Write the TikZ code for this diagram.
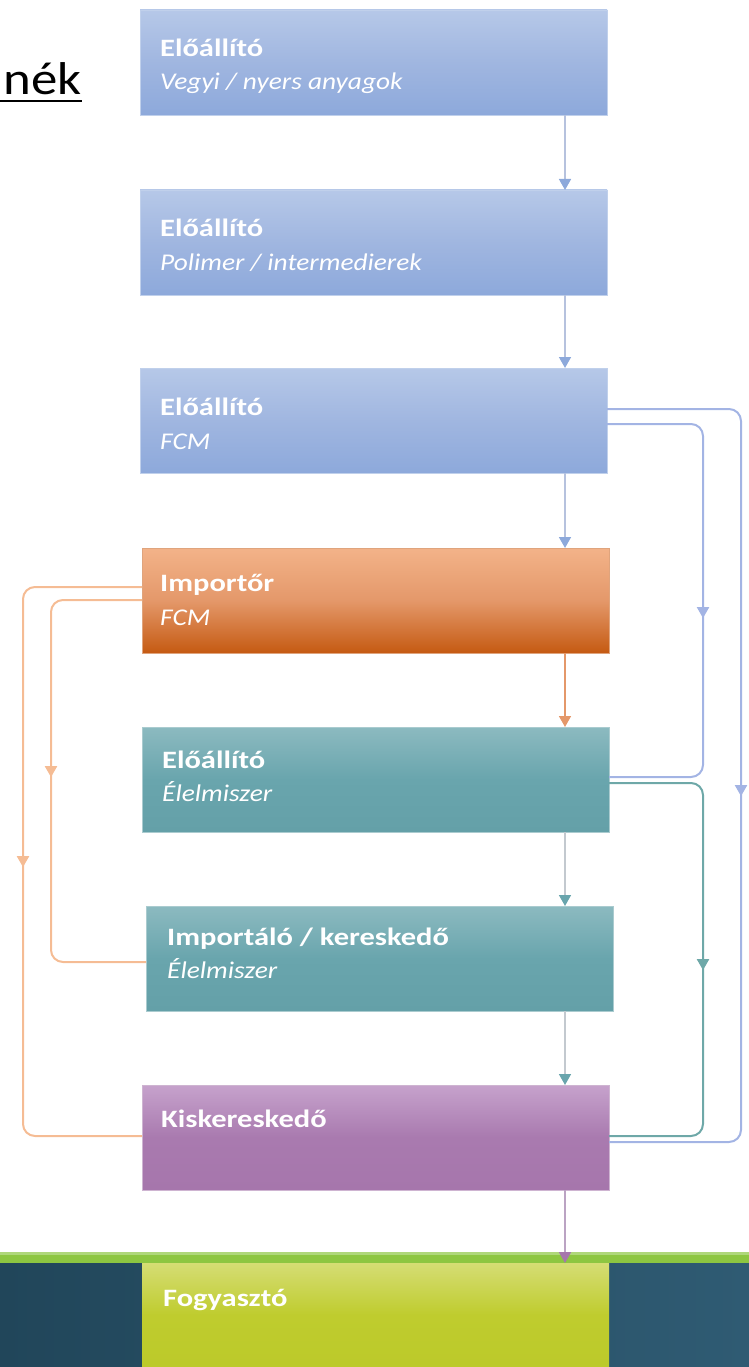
\documentclass[tikz,border=0pt]{standalone}
\usepackage{fontspec}
\setmainfont{Carlito}
\usetikzlibrary{arrows.meta,decorations.markings,calc}
\definecolor{blueTop}{HTML}{B6C8E8}
\definecolor{blueMid}{HTML}{A0B6E0}
\definecolor{blueBot}{HTML}{8DA9DB}
\definecolor{orTop}{HTML}{F3B389}
\definecolor{orMid}{HTML}{E4986A}
\definecolor{orBot}{HTML}{C55A12}
\definecolor{tealTop}{HTML}{8CBAC0}
\definecolor{tealMid}{HTML}{69A5AD}
\definecolor{tealBot}{HTML}{64A0A8}
\definecolor{purTop}{HTML}{C6A2CC}
\definecolor{purMid}{HTML}{A97AAF}
\definecolor{purBot}{HTML}{A676AC}
\definecolor{limeTop}{HTML}{D5DD74}
\definecolor{limeMid}{HTML}{BFCC2E}
\definecolor{limeBot}{HTML}{BCCA2A}
\definecolor{bandL}{HTML}{21465A}
\definecolor{bandR}{HTML}{2F5B73}
\definecolor{stripe}{HTML}{8DC641}
\definecolor{blueLine}{HTML}{A3B4E4}
\definecolor{orLine}{HTML}{F5BC94}
\definecolor{tealLine}{HTML}{6EA8A8}
\definecolor{greyLine}{HTML}{C3C9CF}
\definecolor{bluegLine}{HTML}{B6C2DE}
\definecolor{purLine}{HTML}{BBA3C3}
\newcommand\wideT[1]{\scalebox{1.22}[1]{#1}}
\newcommand\wideS[1]{\scalebox{1.14}[1]{#1}}
\begin{document}
\begin{tikzpicture}[x=1pt,y=-1pt,
  stage/.style={anchor=north west, minimum width=467pt, minimum height=105pt,
    inner sep=0pt, outer sep=0pt, draw=#1!55!white, line width=0.8pt},
  ttl/.style={anchor=base west, inner sep=0pt, text=white,
    font=\fontsize{25}{30}\selectfont\bfseries},
  sub/.style={anchor=base west, inner sep=0pt, text=white,
    font=\fontsize{24}{28}\selectfont\itshape},
  con/.style={line width=2pt, rounded corners=12pt},
  midarrow/.style={postaction={decorate}, decoration={markings,
    mark=at position #1 with {\arrow{Triangle[width=12pt,length=11pt]}}}},
  vert/.style={line width=1.6pt, -{Triangle[width=12pt,length=11pt,color=#1]}},
]
\useasboundingbox (0,0) rectangle (749,1367);

% title fragment
\node[anchor=base east, inner sep=0pt, font=\fontsize{46}{50}\selectfont] (ttlfrag) at (82,95)
  {\scalebox{1.15}[1]{nék}};
\draw[line width=2.6pt] (0,101) -- ($(ttlfrag.base east)+(0,6)$);

% bottom band
\fill[stripe] (0,1252) rectangle (749,1263);
\fill[stripe!70!white] (0,1252) rectangle (749,1255);
\shade[left color=bandL, right color=bandR] (0,1263) rectangle (749,1367);

% stages
\node[stage=blueBot, top color=blueTop, bottom color=blueBot, middle color=blueMid] (b1) at (140,10) {};
\node[stage=blueBot, top color=blueTop, bottom color=blueBot, middle color=blueMid] (b2) at (140,190) {};
\node[stage=blueBot, top color=blueTop, bottom color=blueBot, middle color=blueMid] (b3) at (140,368) {};
\node[stage=orBot, top color=orTop, bottom color=orBot, middle color=orMid] (b4) at (142,548) {};
\node[stage=tealBot, top color=tealTop, bottom color=tealBot, middle color=tealMid] (b5) at (142,727) {};
\node[stage=tealBot, top color=tealTop, bottom color=tealBot, middle color=tealMid] (b6) at (146,906) {};
\node[stage=purBot, top color=purTop, bottom color=purBot, middle color=purMid] (b7) at (142,1085) {};
\node[stage=limeBot, draw=none, top color=limeTop, bottom color=limeBot, middle color=limeMid, minimum height=104pt] (bf) at (142,1263) {};

% texts
\node[ttl] (b1t) at (160,57) {\wideT{Előállító}};
\node[sub] (b1s) at (160,90) {\wideS{Vegyi / nyers anyagok}};
\node[ttl] (b2t) at (160,236) {\wideT{Előállító}};
\node[sub] (b2s) at (160,270) {\wideS{Polimer / intermedierek}};
\node[ttl] (b3t) at (160,415) {\wideT{Előállító}};
\node[sub] (b3s) at (160,449) {\wideS{FCM}};
\node[ttl] (b4t) at (160,591) {\wideT{Importőr}};
\node[sub] (b4s) at (160,625) {\wideS{FCM}};
\node[ttl] (b5t) at (162,768) {\wideT{Előállító}};
\node[sub] (b5s) at (162,801) {\wideS{Élelmiszer}};
\node[ttl] (b6t) at (167,945) {\wideT{Importáló / kereskedő}};
\node[sub] (b6s) at (167,978) {\wideS{Élelmiszer}};
\node[ttl] (b7t) at (161,1127) {\wideT{Kiskereskedő}};
\node[ttl] (bft) at (163,1306) {\wideT{Fogyasztó}};

% spine
\coordinate (spine) at (565,0);
\draw[vert=blueBot, bluegLine] (b1.south -| spine) -- (b2.north -| spine);
\draw[vert=blueBot, bluegLine] (b2.south -| spine) -- (b3.north -| spine);
\draw[vert=blueBot, bluegLine] (b3.south -| spine) -- (b4.north -| spine);
\draw[vert=orMid, orMid] (b4.south -| spine) -- (b5.north -| spine);
\draw[vert=tealMid, greyLine] (b5.south -| spine) -- (b6.north -| spine);
\draw[vert=tealMid, greyLine] (b6.south -| spine) -- (b7.north -| spine);
\draw[vert=purBot, purLine] (b7.south -| spine) -- (bf.north -| spine);

% rails
\coordinate (railBO) at (741,800);
\coordinate (railBI) at (703,600);
\coordinate (railT) at (703,950);
\coordinate (railOO) at (23,850);
\coordinate (railOI) at (51,780);

\draw[con, blueLine, midarrow=516pt] ($(b3.north east)+(0,41)$) -| (railBO) |- ($(b7.north east)+(0,57)$);
\draw[con, blueLine, midarrow=285pt] ($(b3.north east)+(0,56)$) -| (railBI) |- ($(b5.north east)+(0,50)$);
\draw[con, tealLine, midarrow=276pt] ($(b5.north east)+(0,56)$) -| (railT) |- ($(b7.north east)+(0,51)$);
\draw[con, orLine, midarrow=394pt] ($(b4.north west)+(0,39)$) -| (railOO) |- ($(b7.north west)+(0,51)$);
\draw[con, orLine, midarrow=263pt] ($(b4.north west)+(0,52)$) -| (railOI) |- ($(b6.north west)+(0,56)$);
\end{tikzpicture}
\end{document}
